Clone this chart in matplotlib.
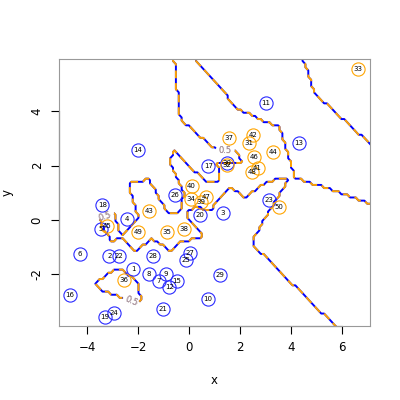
import numpy as np
import matplotlib
matplotlib.use("Agg")
import matplotlib.pyplot as plt

# training points: 1-30 blue (class 0), 31-50 orange (class 1)
blue_x = [-2.20, -3.14, 1.33, -2.46, -3.46, -4.29, -1.19, -1.58, -0.91, 0.72,
          3.01, -0.78, 4.30, -2.01, -0.49, -4.68, 0.75, -3.41, -3.31, 0.42,
          -1.02, -2.76, 3.13, -2.95, -0.13, -0.56, 0.03, -1.41, 1.20, 1.47]
blue_y = [-1.81, -1.32, 0.27, 0.03, -0.34, -1.25, -2.23, -2.00, -1.99, -2.90,
          4.30, -2.45, 2.83, 2.57, -2.23, -2.76, 1.99, 0.55, -3.56, 0.18,
          -3.26, -1.32, 0.72, -3.42, -1.48, 0.92, -1.20, -1.32, -2.03, 2.11]
orange_x = [2.35, 1.47, 6.62, 0.06, -0.89, -2.56, 1.56, -0.21, 0.45, 0.09,
            2.68, 2.51, -1.58, 3.27, -3.24, 2.55, 0.66, 2.46, -2.02, 3.52]
orange_y = [2.84, 2.02, 5.55, 0.77, -0.45, -2.22, 3.00, -0.33, 0.67, 1.25,
            1.90, 3.13, 0.33, 2.49, -0.22, 2.31, 0.83, 1.75, -0.45, 0.47]

px = np.concatenate([blue_x, orange_x])
py = np.concatenate([blue_y, orange_y])
cls = np.concatenate([np.zeros(len(blue_x)), np.ones(len(orange_x))])
ids = np.arange(1, len(px) + 1)

# 1-nearest-neighbour prediction on a grid
gx = np.linspace(-6, 8, 125)
gy = np.linspace(-5, 7, 105)
GX, GY = np.meshgrid(gx, gy)
d2 = (GX[..., None] - px) ** 2 + (GY[..., None] - py) ** 2
pred = cls[np.argmin(d2, axis=2)]

fig = plt.figure(figsize=(4, 4), dpi=100)
ax = fig.add_axes([0.1475, 0.185, 0.7775, 0.6675])

label_pos = [(1.40, 2.55), (-3.28, -0.03), (-2.26, -2.82)]
cs1 = ax.contour(GX, GY, pred, levels=[0.5], colors="blue", linewidths=1.4)
cs2 = ax.contour(GX, GY, pred, levels=[0.5], colors="orange", linewidths=1.4,
                 linestyles=[(0, (4, 2.5))])
for cs in (cs1, cs2):
    ax.clabel(cs, fmt="%.1f", manual=label_pos, inline=True, fontsize=6,
              colors="#a8939c", inline_spacing=2)

ax.plot(blue_x, blue_y, "o", ms=9.5, mfc="none", mec="#2a2aff", mew=0.8)
ax.plot(orange_x, orange_y, "o", ms=9.5, mfc="none", mec="orange", mew=0.8)
for i, xx, yy in zip(ids, px, py):
    ax.text(xx, yy, str(i), fontsize=5, ha="center", va="center", color="black")

ax.set_xlim(-5.11, 7.09)
ax.set_ylim(-3.90, 5.92)
ax.set_xticks([-4, -2, 0, 2, 4, 6])
ax.set_yticks([-2, 0, 2, 4])
ax.set_yticklabels(["-2", "0", "2", "4"], rotation=90, va="center")
ax.tick_params(direction="out", length=6, width=0.8, labelsize=8.5, pad=5)
for sp in ax.spines.values():
    sp.set_color("#999999")
    sp.set_linewidth(0.8)
ax.plot([-4, 6], [-3.90, -3.90], color="black", lw=0.8, clip_on=False)
ax.plot([-5.11, -5.11], [-2, 4], color="black", lw=0.8, clip_on=False)
ax.set_xlabel("x", fontsize=8.5, labelpad=14)
ax.set_ylabel("y", fontsize=8.5, labelpad=12)

fig.savefig("out.png", dpi=100)
